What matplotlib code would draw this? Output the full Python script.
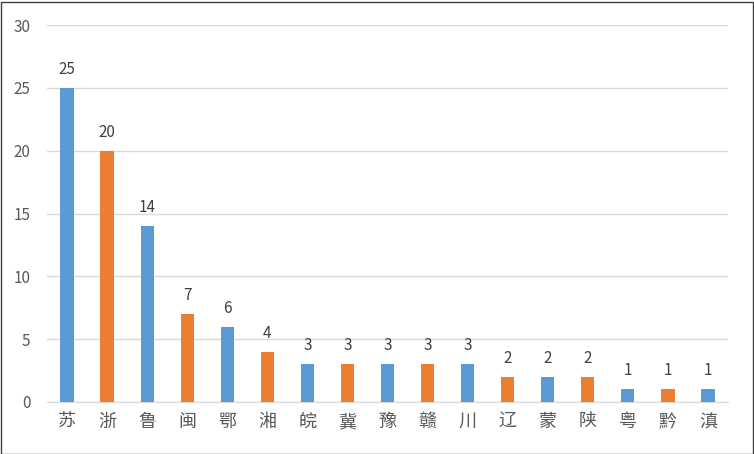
import matplotlib
matplotlib.use("Agg")
import matplotlib.pyplot as plt

categories = ["苏","浙","鲁","闽","鄂","湘","皖","冀","豫","赣","川","辽","蒙","陕","粤","黔","滇"]
values = [25,20,14,7,6,4,3,3,3,3,3,2,2,2,1,1,1]
yticks = [0,5,10,15,20,25,30]

blue, orange = "#5B9BD5", "#ED7D31"
colors = [blue if i % 2 == 0 else orange for i in range(len(values))]

plt.rcParams["font.family"] = ["Noto Sans CJK SC"]
fig = plt.figure(figsize=(7.54, 4.54), dpi=100)
ax = fig.add_axes([47/754, 52/454, 681/754, 377/454])
x = range(len(values))
ax.bar(x, values, width=0.33, color=colors, zorder=3)
for i, v in zip(x, values):
    ax.text(i, v + 0.8, str(v), ha="center", va="bottom", fontsize=11, color="#404040")
ax.set_xlim(-0.5, len(values) - 0.5)
ax.set_ylim(0, 30)
ax.set_yticks(yticks)
ax.set_xticks(list(x))
ax.set_xticklabels(categories, fontsize=13, color="#595959")
ax.tick_params(axis="y", labelsize=11, colors="#595959", length=0, pad=12)
ax.tick_params(axis="x", length=0, pad=8)
ax.grid(axis="y", color="#D9D9D9", linewidth=1, zorder=0)
for s in ["top", "right", "left"]:
    ax.spines[s].set_visible(False)
ax.spines["bottom"].set_color("#D9D9D9")
fig.patches.append(plt.Rectangle((0.5/754, 0.5/454), 752/754, 452/454, transform=fig.transFigure,
                                 fill=False, edgecolor="#404040", linewidth=1))
fig.savefig("out.png", dpi=100)
